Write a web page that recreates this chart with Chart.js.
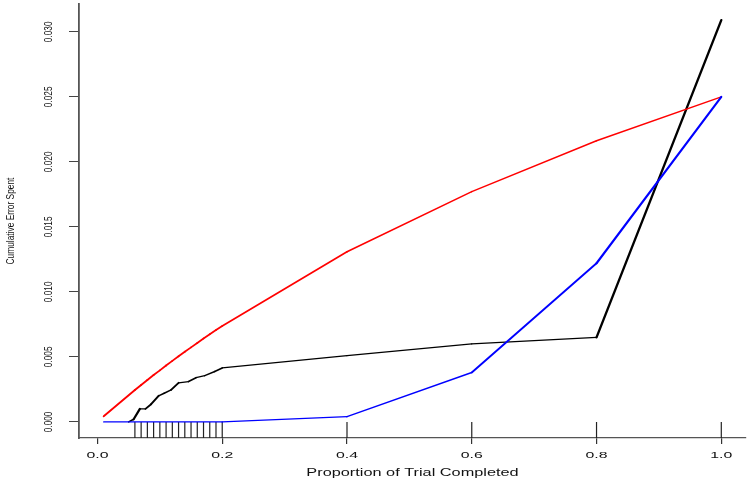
<!DOCTYPE html>
<html>
<head>
<meta charset="utf-8">
<title>Cumulative Error Spent</title>
<script src="https://cdn.jsdelivr.net/npm/chart.js@4.4.1/dist/chart.umd.min.js"></script>
<style>
    html, body { margin: 0; padding: 0; background: #fff; }
    .wrap { width: 750px; height: 482px; position: relative; }
</style>
</head>
<body>
<div class="wrap"><canvas id="mainChart"></canvas></div>
<script>
// --- data ---
const xTicks = [0, 0.2, 0.4, 0.6, 0.8, 1.0];
const xTickLabels = ['0.0', '0.2', '0.4', '0.6', '0.8', '1.0'];
const yTicks = [0, 0.005, 0.010, 0.015, 0.020, 0.025, 0.030];
const yTickLabels = ['0.000', '0.005', '0.010', '0.015', '0.020', '0.025', '0.030'];

const redT = [0.01, 0.06, 0.07, 0.08, 0.09, 0.10, 0.11, 0.12, 0.13, 0.14, 0.15, 0.16, 0.17, 0.18, 0.19, 0.20, 0.40, 0.60, 0.80, 1.00];
const redV = [0.00043, 0.00245, 0.00284, 0.00322, 0.00360, 0.00396, 0.00433, 0.00469, 0.00504, 0.00539, 0.00573, 0.00607, 0.00641, 0.00674, 0.00706, 0.00738, 0.01308, 0.01771, 0.02162, 0.02500];

const blueT = [0.01, 0.20, 0.40, 0.60, 0.80, 1.00];
const blueV = [0, 0, 0.0004, 0.0038, 0.0122, 0.0250];

const blackT = [0.05, 0.058, 0.068, 0.077, 0.086, 0.098, 0.107, 0.118, 0.130, 0.146, 0.158, 0.172, 0.188, 0.20, 0.40, 0.60, 0.80, 1.00];
const blackV = [0, 0.0002, 0.0010, 0.0010, 0.00136, 0.0020, 0.0022, 0.00246, 0.0030, 0.0031, 0.0034, 0.00356, 0.00387, 0.00415, 0.0051, 0.0060, 0.0065, 0.0309];

const rugT = [0.06, 0.07, 0.08, 0.09, 0.10, 0.11, 0.12, 0.13, 0.14, 0.15, 0.16, 0.17, 0.18, 0.19, 0.20, 0.40, 0.60, 0.80, 1.00];

const xTitle = 'Proportion of Trial Completed';
const yTitle = 'Cumulative Error Spent';

document.addEventListener('DOMContentLoaded', function () {
    const ctx = document.getElementById('mainChart').getContext('2d');
    const FONT = '"Liberation Sans", Arial, Helvetica, sans-serif';

    // the reference is stretched sideways: steep strokes look thicker than flat ones
    const stretchWidth = (base) => (c) => {
        const dx = c.p1.x - c.p0.x, dy = c.p1.y - c.p0.y;
        const s = dy / (Math.hypot(dx, dy) || 1);
        return base * Math.sqrt(1 + (1.9 * 1.9 - 1) * s * s);
    };

    const toXY = (t, v) => t.map((x, i) => ({ x: x, y: v[i] }));

    const line = (data, color) => ({
        data: data,
        borderColor: color,
        borderWidth: 1.3,
        borderCapStyle: 'round',
        borderJoinStyle: 'round',
        pointRadius: 0,
        tension: 0,
        fill: false,
        segment: { borderWidth: stretchWidth(1.3) }
    });

    new Chart(ctx, {
        type: 'line',
        data: {
            datasets: [
                line(toXY(blueT, blueV), '#0000ff'),
                line(toXY(redT, redV), '#ff0000'),
                line(toXY(blackT, blackV), '#000000')
            ]
        },
        options: {
            responsive: true,
            maintainAspectRatio: false,
            animation: false,
            layout: { padding: { top: 4, right: 4, left: 0, bottom: 0 } },
            plugins: { legend: { display: false }, tooltip: { enabled: false } },
            scales: {
                x: {
                    type: 'linear',
                    min: -0.0296,
                    max: 1.0396,
                    afterBuildTicks: (s) => { s.ticks = xTicks.map(v => ({ value: v })); },
                    afterFit: (s) => { s.height = 44; },
                    ticks: { display: false },
                    grid: { drawOnChartArea: false, drawTicks: true, tickLength: 6, color: '#333', lineWidth: 1.2 },
                    border: { display: true, color: '#555', width: 1.2 }
                },
                y: {
                    type: 'linear',
                    min: -0.00124,
                    max: 0.03214,
                    afterBuildTicks: (s) => { s.ticks = yTicks.map(v => ({ value: v })); },
                    afterFit: (s) => { s.width = 79; },
                    ticks: { display: false },
                    grid: { drawOnChartArea: false, drawTicks: true, tickLength: 10, color: '#444', lineWidth: 1 },
                    border: { display: true, color: '#555', width: 1.8 }
                }
            }
        },
        plugins: [{
            id: 'rugAndText',
            beforeDatasetsDraw: (chart) => {
                const c = chart.ctx;
                const xs = chart.scales.x;
                const bottom = chart.chartArea.bottom;
                c.save();
                c.strokeStyle = '#222';
                c.lineWidth = 1.2;
                rugT.forEach(t => {
                    const px = xs.getPixelForValue(t);
                    c.beginPath();
                    c.moveTo(px, bottom - 16);
                    c.lineTo(px, bottom);
                    c.stroke();
                });
                c.restore();
            },
            afterDraw: (chart) => {
                const c = chart.ctx;
                const xs = chart.scales.x, ys = chart.scales.y;
                const area = chart.chartArea;
                c.save();
                c.fillStyle = '#111';
                c.textAlign = 'center';
                c.textBaseline = 'alphabetic';

                // x tick labels, wide
                c.font = '9px ' + FONT;
                xTicks.forEach((v, i) => {
                    c.save();
                    c.translate(xs.getPixelForValue(v), 457.5);
                    c.scale(1.76, 1);
                    c.fillText(xTickLabels[i], 0, 0);
                    c.restore();
                });

                // x title
                c.font = '10px ' + FONT;
                c.save();
                c.translate((area.left + area.right) / 2, 476);
                c.scale(1.63, 1);
                c.fillText(xTitle, 0, 0);
                c.restore();

                // y tick labels, rotated and narrow
                c.font = '9.5px ' + FONT;
                yTicks.forEach((v, i) => {
                    c.save();
                    c.translate(52, ys.getPixelForValue(v));
                    c.rotate(-Math.PI / 2);
                    c.scale(0.87, 1.12);
                    c.fillText(yTickLabels[i], 0, 0);
                    c.restore();
                });

                // y title
                c.save();
                c.translate(14, (area.top + area.bottom) / 2);
                c.rotate(-Math.PI / 2);
                c.scale(0.88, 1.12);
                c.fillText(yTitle, 0, 0);
                c.restore();

                c.restore();
            }
        }]
    });
});
</script>
</body>
</html>
